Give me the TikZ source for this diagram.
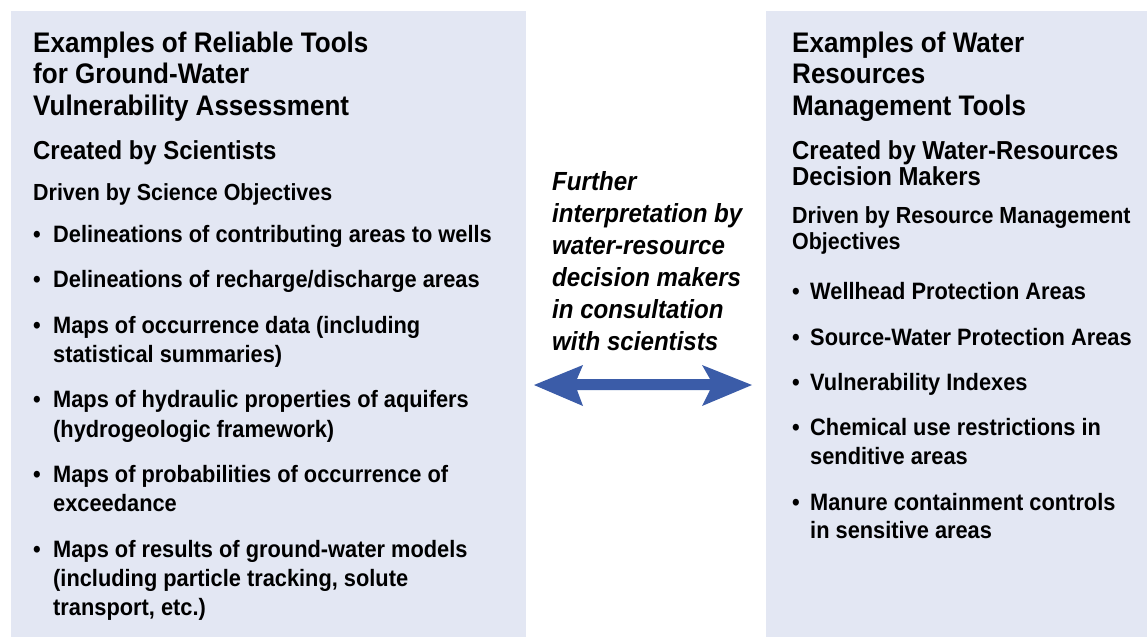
\documentclass[tikz,border=0pt]{standalone}
\usepackage{fontspec}
\setmainfont{Liberation Sans}[FakeStretch=0.92]
\usepackage{xcolor}
\definecolor{panelbg}{RGB}{227,231,243}
\definecolor{arrowblue}{RGB}{59,92,168}

\begin{document}
\begin{tikzpicture}[x=1pt,y=-1pt,
  txt/.style={anchor=base west, inner sep=0},
  head/.style={txt, font=\fontsize{28.3}{32}\selectfont\bfseries},
  sub/.style={txt, font=\fontsize{26}{30}\selectfont\bfseries},
  drive/.style={txt, font=\fontsize{23.3}{28}\selectfont\bfseries},
  item/.style={txt, font=\fontsize{23.7}{28}\selectfont\bfseries},
  note/.style={txt, font=\fontsize{26.2}{30}\selectfont\bfseries\itshape}]
\useasboundingbox (0,0) rectangle (1147,637);
\fill[panelbg] (11,11) rectangle (526,637);
\fill[panelbg] (766,11) rectangle (1147,637);
% left panel
\foreach \y/\t [count=\i] in {52/Examples of Reliable Tools, 83/for Ground-Water, 115/Vulnerability Assessment}
  \node[head] (lh\i) at (33,\y) {\t};
\node[sub] (lcreated) at (33,159) {Created by Scientists};
\node[drive] (ldriven) at (33,200) {Driven by Science Objectives};
\foreach \y [count=\i] in {242, 287, 333, 407, 482, 557}
  \node[item] (lb\i) at (33,\y) {\textbullet};
\foreach \y/\t [count=\i] in {242/Delineations of contributing areas to wells,
  287/{Delineations of recharge/discharge areas},
  333/Maps of occurrence data (including, 362/statistical summaries),
  407/Maps of hydraulic properties of aquifers, 437/(hydrogeologic framework),
  482/Maps of probabilities of occurrence of, 511/exceedance,
  557/Maps of results of ground-water models, 586/{(including particle tracking, solute},
  615/{transport, etc.)}}
  \node[item] (li\i) at (53,\y) {\t};
% middle
\foreach \y/\t [count=\i] in {190/Further, 222/interpretation by, 254/water-resource,
  286/decision makers, 318/in consultation, 350/with scientists}
  \node[note] (m\i) at (552,\y) {\t};
\coordinate (al) at (534,385);
\coordinate (ar) at (752,385);
\fill[arrowblue] (al) -- ++(49,-20) -- ++(-6,14) -- ++(133,0) -- ++(-8,-14)
  -- (ar) -- ++(-50,21) -- ++(8,-16) -- ++(-133,0) -- ++(6,16) -- cycle;
% right panel
\foreach \y/\t [count=\i] in {52/Examples of Water, 83/Resources, 115/Management Tools}
  \node[head] (rh\i) at (792,\y) {\t};
\node[sub] (rc1) at (792,159) {Created by Water-Resources};
\node[sub] (rc2) at (792,185) {Decision Makers};
\node[drive] (rd1) at (792,223) {Driven by Resource Management};
\node[drive] (rd2) at (792,249) {Objectives};
\foreach \y [count=\i] in {299, 345, 390, 435, 510}
  \node[item] (rb\i) at (792,\y) {\textbullet};
\foreach \y/\t [count=\i] in {299/Wellhead Protection Areas, 345/Source-Water Protection Areas,
  390/Vulnerability Indexes, 435/Chemical use restrictions in, 464/senditive areas,
  510/Manure containment controls, 538/in sensitive areas}
  \node[item] (ri\i) at (810,\y) {\t};
\end{tikzpicture}
\end{document}
